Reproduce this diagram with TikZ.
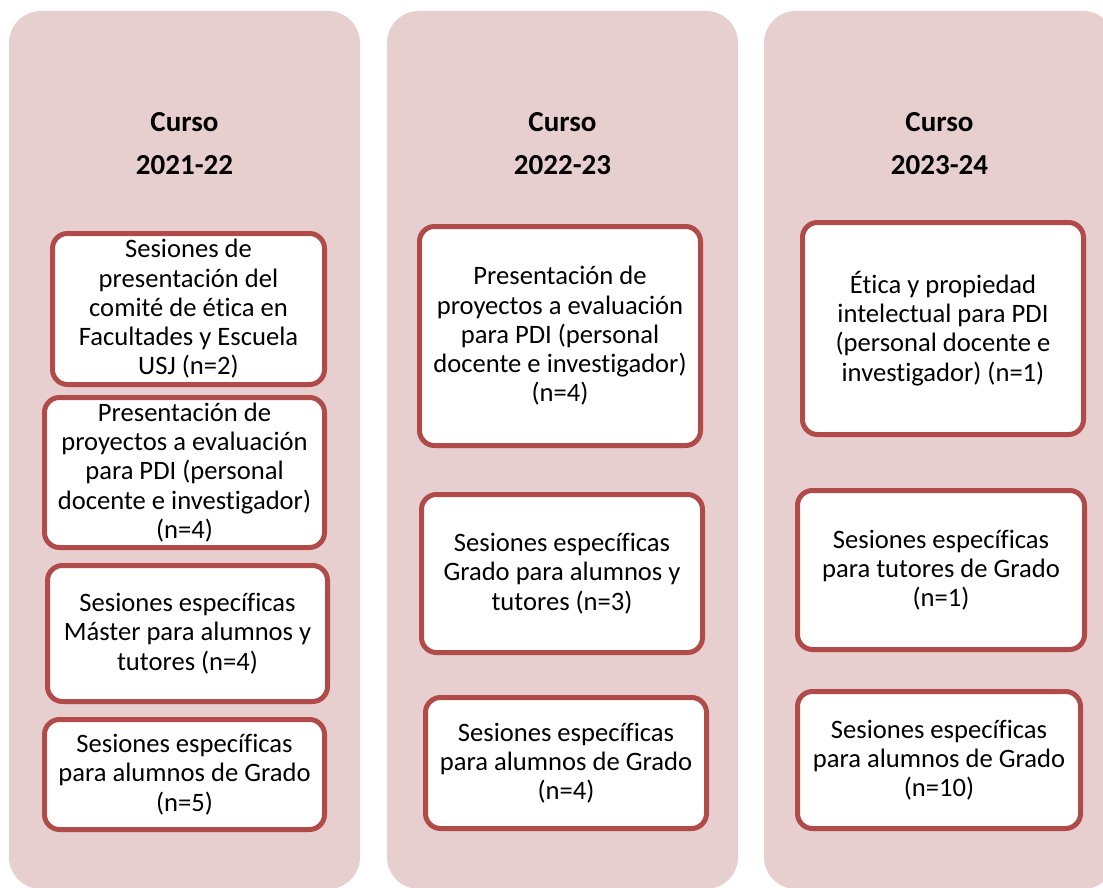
\documentclass[tikz,border=0pt]{standalone}
\usepackage{fontspec}
\setmainfont{Carlito}[Ligatures=NoCommon]
\definecolor{colbg}{RGB}{231,207,208}
\definecolor{boxred}{RGB}{176,75,73}
\tikzset{
  colpanel/.style={fill=colbg, draw=none, rounded corners=32pt},
  evbox/.style={draw=boxred, fill=white, line width=5pt, rounded corners=15pt,
    align=center, inner sep=0pt, text=black,
    font=\fontsize{26.6}{29.3}\selectfont},
  headtxt/.style={font=\fontsize{29}{34}\selectfont\bfseries, inner sep=0pt, text=black}
}
\begin{document}
\begin{tikzpicture}[x=1pt,y=-1pt]
\clip (0,0) rectangle (1103,888);
\fill[white] (0,0) rectangle (1103,888);
% column panels
\path[colpanel] (9,11) rectangle (360,889);
\path[colpanel] (387,11) rectangle (738,889);
\path[colpanel] (764,11) rectangle (1115,889);
% headings
\node[headtxt] (h1a) at (184.5,122) {Curso};
\node[headtxt] (h1b) at (184.5,165) {2021-22};
\node[headtxt] (h2a) at (562.5,122) {Curso};
\node[headtxt] (h2b) at (562.5,165) {2022-23};
\node[headtxt] (h3a) at (939.5,122) {Curso};
\node[headtxt] (h3b) at (939.5,165) {2023-24};
% column 1
\node[evbox, minimum width=272pt, minimum height=151pt] (a1) at (188.5,309)
  {Sesiones de\\presentación del\\comité de ética en\\Facultades y Escuela\\USJ (n=2)};
\node[evbox, minimum width=280pt, minimum height=150pt] (a2) at (184.5,472.5)
  {Presentación de\\proyectos a evaluación\\para PDI (personal\\docente e investigador)\\(n=4)};
\node[evbox, minimum width=280pt, minimum height=136pt] (a3) at (187.5,633.5)
  {Sesiones específicas\\Máster para alumnos y\\tutores (n=4)};
\node[evbox, minimum width=280pt, minimum height=110pt] (a4) at (184.5,774.5)
  {Sesiones específicas\\para alumnos de Grado\\(n=5)};
% column 2
\node[evbox, minimum width=281pt, minimum height=219pt] (b1) at (560,336)
  {Presentación de\\proyectos a evaluación\\para PDI (personal\\docente e investigador)\\(n=4)};
\node[evbox, minimum width=281pt, minimum height=158pt] (b2) at (562,573.5)
  {Sesiones específicas\\Grado para alumnos y\\tutores (n=3)};
\node[evbox, minimum width=281pt, minimum height=131pt] (b3) at (566,763)
  {Sesiones específicas\\para alumnos de Grado\\(n=4)};
% column 3
\node[evbox, minimum width=281pt, minimum height=212pt] (c1) at (943,328.5)
  {Ética y propiedad\\intelectual para PDI\\(personal docente e\\investigador) (n=1)};
\node[evbox, minimum width=287pt, minimum height=159pt] (c2) at (941,570)
  {Sesiones específicas\\para tutores de Grado\\(n=1)};
\node[evbox, minimum width=283pt, minimum height=137pt] (c3) at (939,760)
  {Sesiones específicas\\para alumnos de Grado\\(n=10)};
\end{tikzpicture}
\end{document}
